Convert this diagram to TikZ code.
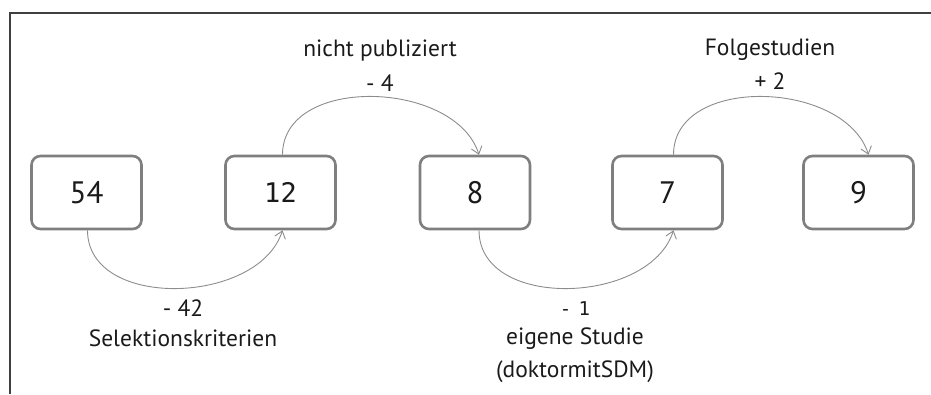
\documentclass[tikz,border=0pt]{standalone}
\usepackage{fontspec}
\setmainfont{PT Sans}
\newfontfamily\monofnt{DejaVu Sans Mono}
\usetikzlibrary{arrows.meta}
\definecolor{boxgray}{HTML}{7F7F7F}
\definecolor{arrgray}{HTML}{8C8C8C}
\definecolor{framegray}{HTML}{404040}
\definecolor{txt}{HTML}{1A1A1A}
\tikzset{
  numbox/.style={draw=boxgray, line width=2.6pt, rounded corners=9pt, fill=white,
    minimum width=110pt, minimum height=73pt, inner sep=0pt, text=txt,
    font=\fontsize{31}{31}\selectfont},
  flow/.style={draw=arrgray, line width=0.9pt, -{Straight Barb[length=7pt,width=11pt,line width=0.9pt]}},
  lbl/.style={font=\fontsize{23.5}{28}\selectfont, align=center, inner sep=0pt, text=txt},
  monolbl/.style={font=\monofnt\fontsize{19}{22}\selectfont, inner sep=0pt, text=txt},
}
\begin{document}
\begin{tikzpicture}[x=1pt,y=-1pt]
\useasboundingbox (0,0) rectangle (931,394);
\coordinate (ftop) at (931,13);
\coordinate (fcorner) at (10,13);
\coordinate (fbot) at (10,394);
\draw[framegray, line width=1.3pt] (ftop) -- (fcorner) -- (fbot);

\node[numbox] (n54) at (86.5,192.5) {54};
\node[numbox] (n12) at (280.5,192.5) {\monofnt\fontsize{27}{27}\selectfont 12};
\node[numbox] (n8) at (475,192.5) {8};
\node[numbox] (n7) at (667.5,192.5) {7};
\node[numbox] (n9) at (858.5,192.5) {9};

\draw[flow] ([xshift=1pt]n54.south) .. controls +(0,80) and +(-24,75) .. ([xshift=2pt]n12.south);
\draw[flow] ([xshift=2pt]n12.north) .. controls +(0,-80) and +(-24,-75) .. ([xshift=4pt]n8.north);
\draw[flow] ([xshift=4pt]n8.south) .. controls +(0,80) and +(-24,75) .. ([xshift=6pt]n7.south);
\draw[flow] ([xshift=6pt]n7.north) .. controls +(0,-80) and +(-24,-75) .. ([xshift=10pt]n9.north);

\node[lbl] (t1) at (380,51) {nicht publiziert};
\node[lbl] (t2) at (380,83) {- 4};
\node[lbl] (t3) at (770,50) {Folgestudien};
\node[lbl] (t4) at (770,81) {+ 2};
\node[lbl] (t5) at (183,308) {- 42};
\node[lbl] (t6) at (183,338) {Selektionskriterien};
\node[monolbl] (t7) at (575,309) {-\kern-4pt\ 1};
\node[lbl] (t8) at (575,339) {eigene Studie};
\node[lbl] (t9) at (575,372) {(doktormitSDM)};
\end{tikzpicture}
\end{document}
